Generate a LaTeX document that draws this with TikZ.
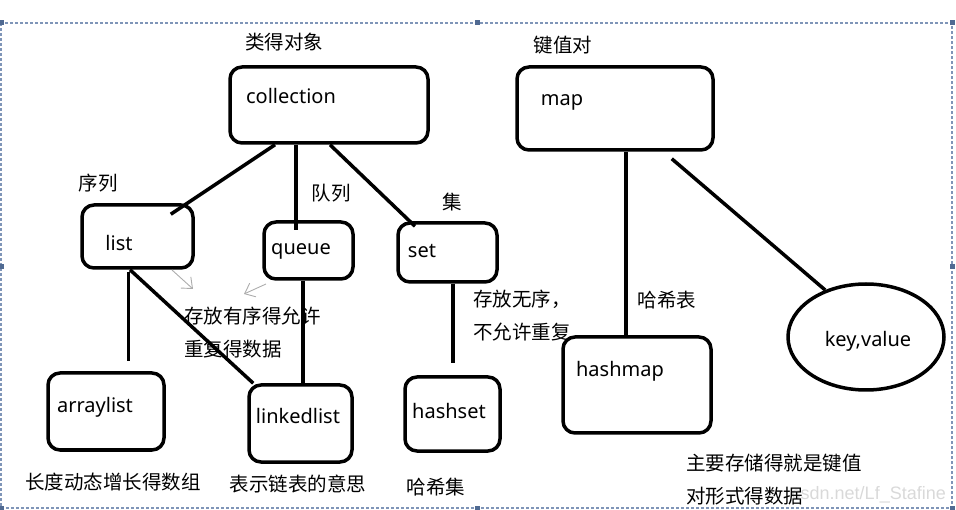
\documentclass[tikz,border=0pt]{standalone}
\usepackage{fontspec}
\setmainfont{Noto Sans}
\newfontfamily\cjk{Noto Sans CJK SC}
\newfontfamily\wmfont{Liberation Sans}
\usetikzlibrary{shapes.geometric, arrows.meta}
\definecolor{framecol}{RGB}{127,149,184}
\definecolor{handlecol}{RGB}{80,106,146}

\begin{document}
\begin{tikzpicture}[
    x=1pt, y=-1pt,
    box/.style={draw, line width=3.5pt, rounded corners=12pt, inner sep=0pt},
    link/.style={line width=3.5pt},
    txt/.style={inner sep=0pt, font=\fontsize{20pt}{24pt}\selectfont},
    zh/.style={inner sep=0pt, align=left, font=\cjk\fontsize{19.5pt}{33pt}\selectfont},
    hint/.style={draw=gray!65, line width=0.9pt, -{Straight Barb[length=9pt, width=15pt]}},
    selframe/.style={draw=framecol, line width=1.2pt, dash pattern=on 3pt off 2pt},
    handle/.style={fill=handlecol},
]

  % FRAME
  \useasboundingbox (0,0) rectangle (956,510);
  \draw[selframe] (1,23) rectangle (952,508);
  \foreach \hx/\hy in {1/23, 477/23, 952/23, 1/267, 952/267, 1/508, 477/508, 952/508}
    \fill[handle] (\hx-2.5,\hy-2.5) rectangle +(5,5);

  % watermark
  \node[anchor=east, inner sep=0pt, text=gray!30, font=\wmfont\fontsize{18pt}{20pt}\selectfont]
    (wm) at (946,495) {csdn.net/Lf\_Stafine};

  % START OF TIKZ NODES

  \node[box, minimum width=198pt, minimum height=76pt] (collection) at (329,105) {};
  \node[box, minimum width=196pt, minimum height=83pt] (map) at (615,108.5) {};
  \node[box, minimum width=111pt, minimum height=63pt] (list) at (137.5,236.5) {};
  \node[box, minimum width=89pt, minimum height=57pt] (queue) at (308.5,250.5) {};
  \node[box, minimum width=99pt, minimum height=59pt] (set) at (447.5,252.5) {};
  \node[box, minimum width=116pt, minimum height=77pt] (arraylist) at (106,411.5) {};
  \node[box, minimum width=103pt, minimum height=77pt] (linkedlist) at (300.5,423.5) {};
  \node[box, minimum width=95pt, minimum height=74pt] (hashset) at (452.5,414) {};
  \node[box, minimum width=148pt, minimum height=96pt] (hashmap) at (637,385) {};
  \node[draw, ellipse, line width=3.5pt, minimum width=156pt, minimum height=106pt,
    inner sep=0pt] (keyvalue) at (866,337) {};

  \node[txt] (collection-t) at (291,96) {collection};
  \node[txt] (map-t) at (562,102) {map};
  \node[txt] (list-t) at (119,243) {list};
  \node[txt] (queue-t) at (301,251) {queue};
  \node[txt] (set-t) at (422,251) {set};
  \node[txt] (arraylist-t) at (95,407) {arraylist};
  \node[txt] (linkedlist-t) at (298,416) {linkedlist};
  \node[txt] (hashset-t) at (449,411) {hashset};
  \node[txt] (hashmap-t) at (620,371) {hashmap};
  \node[txt] (keyvalue-t) at (868,341) {key,value};

  \node[zh] (collection-zh) at (284,42) {类得对象};
  \node[zh] (map-zh) at (563,45) {键值对};
  \node[zh] (list-zh) at (98,183) {序列};
  \node[zh] (queue-zh) at (331,193) {队列};
  \node[zh] (set-zh) at (452,202) {集};
  \node[zh, anchor=west] (list-note) at (184,333) {存放有序得允许\\重复得数据};
  \node[zh, anchor=west] (set-note) at (473,316) {存放无序，\\不允许重复};
  \node[zh] (hashmap-zh) at (667,300) {哈希表};
  \node[zh] (arraylist-note) at (113,482) {长度动态增长得数组};
  \node[zh] (linkedlist-note) at (298,484) {表示链表的意思};
  \node[zh] (hashset-note) at (436,487) {哈希集};
  \node[zh, anchor=west] (map-note) at (686,479.5) {主要存储得就是键值\\对形式得数据};

  % CONNECTORS
  \draw[link] ([xshift=-54pt]collection.south) -- ([xshift=-24pt,yshift=-11pt]list.north east);
  \draw[link] ([xshift=-33pt]collection.south) -- ([xshift=-12.5pt,yshift=-10pt]queue.north);
  \draw[link] ([xshift=1pt]collection.south) -- ([xshift=-32.5pt,yshift=-5pt]set.north);
  \draw[link] ([xshift=-9pt,yshift=-2pt]list.south) -- ([xshift=22.5pt,yshift=10pt]arraylist.north);
  \draw[link] ([xshift=-7.5pt]list.south) -- ([xshift=6pt]linkedlist.north west);
  \draw[link] ([xshift=-5.5pt]queue.south) -- ([xshift=2.5pt]linkedlist.north);
  \draw[link] ([xshift=5.5pt]set.south) -- ([xshift=0.5pt,yshift=12pt]hashset.north);
  \draw[link] ([xshift=11pt]map.south) -- ([xshift=-11pt,yshift=-3pt]hashmap.north);
  \draw[link] ([xshift=-43pt,yshift=-7pt]map.south east) -- (keyvalue.131);

  % small pen arrows
  \coordinate (hint1a) at (172,270);
  \coordinate (hint1b) at (193,289);
  \coordinate (hint2a) at (266,284);
  \coordinate (hint2b) at (244,294);
  \draw[hint] (hint1a) -- (hint1b);
  \draw[hint] (hint2a) -- (hint2b);

\end{tikzpicture}
\end{document}
